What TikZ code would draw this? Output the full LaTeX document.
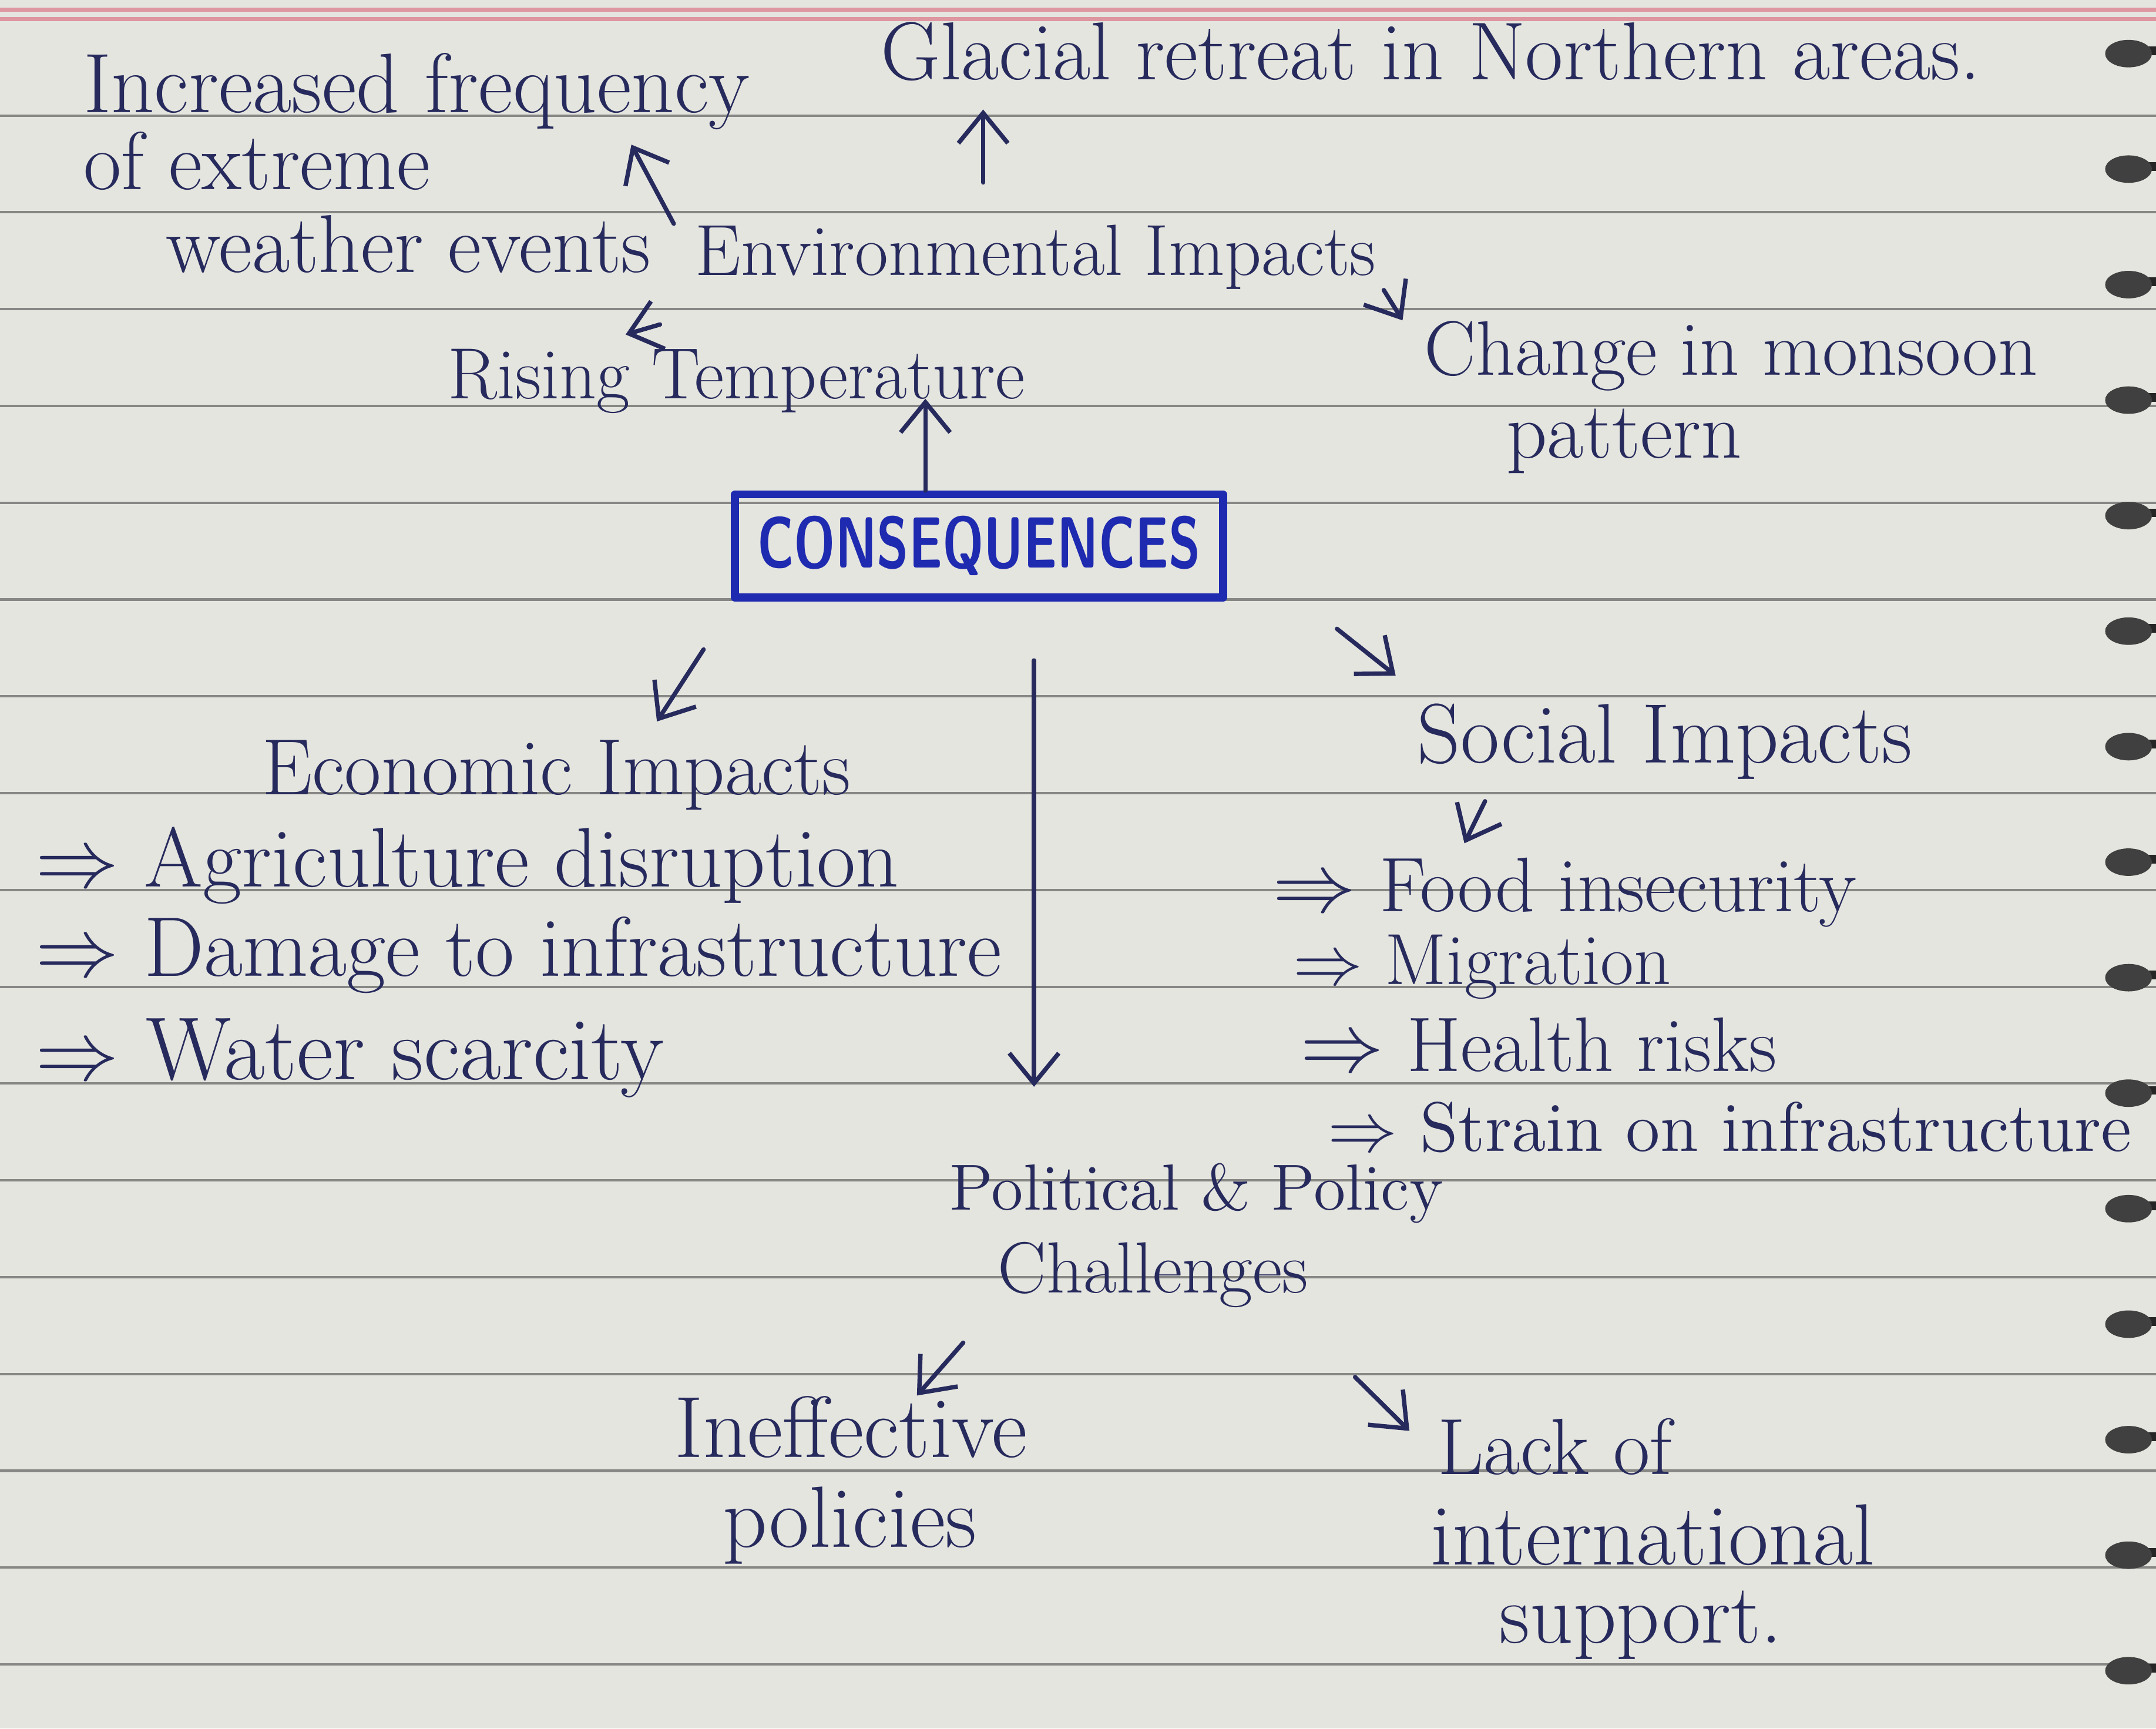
\documentclass[tikz,border=0pt]{standalone}
\usepackage{graphicx}
\usetikzlibrary{arrows.meta}
\definecolor{ink}{RGB}{38,42,92}
\definecolor{boxblue}{RGB}{30,42,175}
\definecolor{paper}{RGB}{229,229,223}
\definecolor{ruling}{RGB}{135,135,133}
\definecolor{margin}{RGB}{222,150,160}
\begin{document}
\begin{tikzpicture}[>={Straight Barb[length=2.2mm,width=3.6mm]},line join=round,line cap=round,
    font=\fontsize{15}{17}\selectfont,
    txt/.style={text=ink,inner sep=0pt,anchor=base west},
    sz/.style={font=\fontsize{#1}{#1}\selectfont},
    link/.style={->,draw=ink,line width=0.9pt}]
  \useasboundingbox (0,0) rectangle (15.68,-12.57);
  % paper, ruling and spiral
  \fill[paper] (0,0) rectangle (15.68,-12.57);
  \draw[margin,line width=0.8pt] (0,-0.07) -- (15.68,-0.07);
  \draw[margin,line width=0.8pt] (0,-0.14) -- (15.68,-0.14);
  \foreach \k in {0,...,16}
    \draw[ruling,line width=0.5pt] (0,{-0.84-0.704*\k}) -- (15.68,{-0.84-0.704*\k});
  \foreach \k in {0,...,14} {
    \draw[black!85,line width=1.8pt] (15.45,{-0.37-0.84*\k}) -- (15.68,{-0.37-0.84*\k});
    \fill[black!75] (15.48,{-0.39-0.84*\k}) ellipse (0.17 and 0.10);
  }
  % environmental branch
  \node[txt,sz=17.5] (freq1) at (0.60,-0.82) {Increased frequency};
  \node[txt,sz=17] (freq2) at (0.60,-1.38) {of extreme};
  \node[txt,sz=17] (freq3) at (1.20,-1.98) {weather events};
  \node[txt,sz=17] (glacial) at (6.40,-0.58) {Glacial retreat in Northern areas.};
  \node[txt] (env) at (5.05,-2.00) {Environmental Impacts};
  \node[txt,sz=16] (mons1) at (10.35,-2.73) {Change in monsoon};
  \node[txt,sz=16.5] (mons2) at (10.95,-3.33) {pattern};
  \node[txt] (temp) at (3.25,-2.90) {Rising Temperature};
  % centre
  \node[draw=boxblue,line width=1.6pt,text=boxblue,minimum width=3.55cm,minimum height=0.75cm,
    font=\fontsize{15}{17}\selectfont\sffamily\bfseries] (cons) at (7.12,-3.97) {\scalebox{0.72}[1]{CONSEQUENCES}};
  % economic branch
  \node[txt,sz=16.5] (econ) at (1.90,-5.78) {Economic Impacts};
  \node[txt,sz=17.5] (econa) at (0.25,-6.45) {$\Rightarrow$ Agriculture disruption};
  \node[txt,sz=17.5] (econb) at (0.25,-7.10) {$\Rightarrow$ Damage to infrastructure};
  \node[txt,sz=18.5] (econc) at (0.25,-7.85) {$\Rightarrow$ Water scarcity};
  % social branch
  \node[txt,sz=17.5] (soc) at (10.30,-5.55) {Social Impacts};
  \node[txt,sz=16] (soca) at (9.25,-6.63) {$\Rightarrow$ Food insecurity};
  \node[txt,sz=15] (socb) at (9.40,-7.16) {$\Rightarrow$ Migration};
  \node[txt,sz=16] (socc) at (9.45,-7.79) {$\Rightarrow$ Health risks};
  \node[txt,sz=14.5] (socd) at (9.65,-8.37) {$\Rightarrow$ Strain on infrastructure};
  % political branch
  \node[txt,sz=13.5] (pol1) at (6.90,-8.80) {Political \& Policy};
  \node[txt] (pol2) at (7.25,-9.40) {Challenges};
  \node[txt,sz=18] (ineff1) at (4.90,-10.60) {Ineffective};
  \node[txt,sz=18] (ineff2) at (5.25,-11.25) {policies};
  \node[txt,sz=16.5] (lack1) at (10.45,-10.72) {Lack of};
  \node[txt,sz=18] (lack2) at (10.40,-11.38) {international};
  \node[txt,sz=17.5] (lack3) at (10.90,-11.95) {support.};
  % arrows
  \draw[link] ([xshift=-1.5mm]env.north west) -- ([xshift=-8.7mm,yshift=-1mm]freq1.south east);
  \draw[link] ([xshift=2.1cm,yshift=3mm]env.north west) -- ([xshift=2.1cm,yshift=-2mm]env.north west |- glacial.south);
  \draw[link] ([shift={(0.5mm,0mm)}]env.south east) -- ([shift={(-1.5mm,0mm)}]mons1.north west);
  \draw[link] ([shift={(-2.5mm,-2.5mm)}]env.south west) -- ([xshift=1.3cm,yshift=1mm]temp.north west);
  \draw[link] ([xshift=-3.9mm]cons.north) -- ([xshift=-3.9mm]cons.north |- temp.base);
  \draw[link] ([shift={(-2mm,-3.5mm)}]cons.south west) -- ([xshift=7.3mm,yshift=1.3mm]econ.north);
  \draw[link] ([shift={(4mm,-4.3mm)}]cons.south) -- ([xshift=4mm,yshift=5.5mm]cons.south |- pol1.north);
  \draw[link] ([shift={(8mm,-2mm)}]cons.south east) -- ([shift={(-1.5mm,2mm)}]soc.north west);
  \draw[link] ([shift={(5mm,-1.5mm)}]soc.south west) -- ([xshift=1.4cm,yshift=1mm]soca.north west);
  \draw[link] ([xshift=-1.38cm,yshift=-2.5mm]pol2.south) -- ([xshift=4.8mm]ineff1.north);
  \draw[link] ([xshift=1.47cm,yshift=-5mm]pol2.south) -- ([shift={(-2mm,-1mm)}]lack1.north west);
\end{tikzpicture}
\end{document}
